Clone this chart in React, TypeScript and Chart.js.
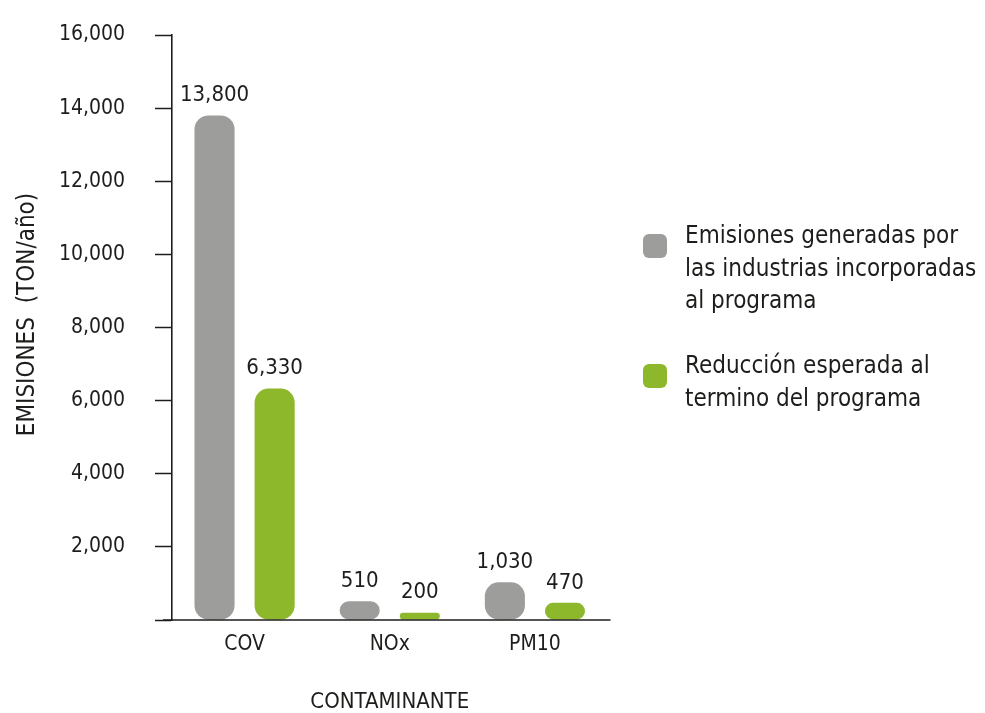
import React, { useEffect, useRef } from "react";
import { Chart, registerables } from "chart.js";

Chart.register(...registerables);

const categories = ["COV", "NOx", "PM10"];
const emisionesGeneradas = [13800, 510, 1030];
const reduccionEsperada = [6330, 200, 470];
const legendEmisiones = ["Emisiones generadas por", "las industrias incorporadas", "al programa"];
const legendReduccion = ["Reducción esperada al", "termino del programa"];
const yMin = 0;
const yMax = 16000;
const yStep = 2000;
const yTitle = "EMISIONES  (TON/año)";
const xTitle = "CONTAMINANTE";

const GRAY = "#9d9d9c";
const GREEN = "#8db82b";
const TEXT = "#1d1d1b";
const FONT = "'DejaVu Sans Condensed', 'Liberation Sans Narrow', 'DejaVu Sans', sans-serif";

const fmt = (v: number) => v.toLocaleString("en-US");

const valueLabels = {
  id: "valueLabels",
  afterDatasetsDraw(chart: any) {
    const ctx = chart.ctx;
    ctx.save();
    ctx.font = `22px ${FONT}`;
    ctx.fillStyle = TEXT;
    ctx.textAlign = "center";
    ctx.textBaseline = "bottom";
    chart.data.datasets.forEach((ds: any, di: number) => {
      const meta = chart.getDatasetMeta(di);
      meta.data.forEach((bar: any, i: number) => {
        ctx.fillText(fmt(ds.data[i]), bar.x, bar.y - 9);
      });
    });
    ctx.restore();
  },
};

const axisExtras = {
  id: "axisExtras",
  afterDraw(chart: any) {
    const { ctx, chartArea } = chart;
    ctx.save();
    // x axis line with small overhang
    ctx.strokeStyle = TEXT;
    ctx.lineWidth = 1.6;
    ctx.beginPath();
    ctx.moveTo(chartArea.left - 9, chartArea.bottom);
    ctx.lineTo(chartArea.right + 3, chartArea.bottom);
    ctx.stroke();
    // y axis title
    ctx.translate(28, chartArea.top + (chartArea.bottom - chartArea.top) / 2 - 13);
    ctx.rotate(-Math.PI / 2);
    ctx.font = `24px ${FONT}`;
    ctx.fillStyle = TEXT;
    ctx.textAlign = "center";
    ctx.textBaseline = "middle";
    ctx.fillText(yTitle, 0, 0);
    ctx.restore();
  },
};

const sideLegend = {
  id: "sideLegend",
  afterDraw(chart: any) {
    const { ctx, chartArea } = chart;
    const markerX = chartArea.right + 35.5;
    const textX = chartArea.right + 77.5;
    const lineH = 32.5;
    const blocks = [
      { lines: legendEmisiones, color: GRAY, baseline: 243 },
      { lines: legendReduccion, color: GREEN, baseline: 373 },
    ];
    ctx.save();
    ctx.font = `24px ${FONT}`;
    ctx.textAlign = "left";
    ctx.textBaseline = "alphabetic";
    blocks.forEach((b) => {
      ctx.fillStyle = b.color;
      ctx.beginPath();
      (ctx as any).roundRect(markerX, b.baseline - 9, 24, 24, 6);
      ctx.fill();
      ctx.fillStyle = TEXT;
      b.lines.forEach((line, i) => {
        ctx.fillText(line, textX, b.baseline + i * lineH);
      });
    });
    ctx.restore();
  },
};

export default function App() {
  const ref = useRef<HTMLCanvasElement | null>(null);

  useEffect(() => {
    if (!ref.current) return;
    const chart = new Chart(ref.current, {
      type: "bar",
      data: {
        labels: categories,
        datasets: [
          {
            label: legendEmisiones.join(" "),
            data: emisionesGeneradas,
            backgroundColor: GRAY,
            borderRadius: 14,
            borderSkipped: false,
          },
          {
            label: legendReduccion.join(" "),
            data: reduccionEsperada,
            backgroundColor: GREEN,
            borderRadius: 14,
            borderSkipped: false,
          },
        ],
      },
      options: {
        responsive: false,
        animation: false,
        devicePixelRatio: 1,
        layout: { padding: { top: 35, right: 377.5, bottom: 0, left: 0 } },
        datasets: { bar: { categoryPercentage: 0.828, barPercentage: 0.667 } },
        plugins: {
          legend: { display: false },
          tooltip: { enabled: false },
        },
        scales: {
          x: {
            grid: { display: false, drawTicks: false },
            border: { display: false },
            ticks: {
              color: TEXT,
              font: { family: FONT, size: 21 },
              padding: 12,
            },
            title: {
              display: true,
              text: xTitle,
              color: TEXT,
              font: { family: FONT, size: 22, lineHeight: 1 },
              padding: { top: 0, bottom: 0 },
            },
            afterFit: (scale: any) => {
              scale.height = 93;
            },
          },
          y: {
            min: yMin,
            max: yMax,
            grid: {
              drawOnChartArea: false,
              drawTicks: true,
              tickLength: 17,
              tickWidth: 1.5,
              tickColor: TEXT,
            },
            border: { display: true, color: TEXT, width: 1.6 },
            ticks: {
              stepSize: yStep,
              color: TEXT,
              font: { family: FONT, size: 21 },
              padding: 30,
              callback: (v: any) => (Number(v) === 0 ? "" : fmt(Number(v))),
            },
            title: { display: false },
            afterFit: (scale: any) => {
              scale.width = 172;
              scale.paddingTop = 12;
              scale.paddingBottom = 12;
            },
          },
        },
      },
      plugins: [valueLabels, axisExtras, sideLegend],
    });
    return () => chart.destroy();
  }, []);

  return (
    <div style={{ position: "fixed", left: 0, top: 0, width: 985, height: 713, background: "#fff" }}>
      <canvas ref={ref} width={985} height={713} style={{ display: "block" }} />
    </div>
  );
}
